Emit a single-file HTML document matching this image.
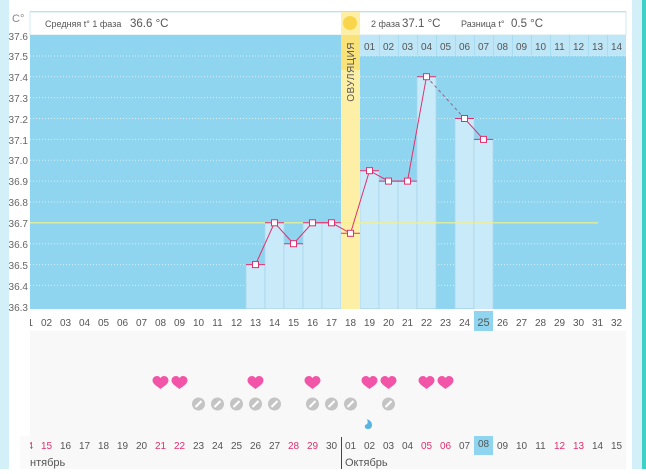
<!DOCTYPE html>
<html><head><meta charset="utf-8"><style>
body{margin:0;width:646px;height:469px;overflow:hidden;background:#fff;font-family:"Liberation Sans","DejaVu Sans",sans-serif}
svg text{font-family:"Liberation Sans","DejaVu Sans",sans-serif}
</style></head><body>
<svg width="646" height="469" viewBox="0 0 646 469" xmlns="http://www.w3.org/2000/svg">
<defs>
<path id="h" d="M0,6 C-3,3.5 -8,1 -8,-2.5 C-8,-5.5 -5.5,-7 -3.5,-7 C-2,-7 -0.7,-6 0,-5 C0.7,-6 2,-7 3.5,-7 C5.5,-7 8,-5.5 8,-2.5 C8,1 3,3.5 0,6Z" fill="#f255a8"/>
</defs>
<rect x="0" y="0" width="646" height="469" fill="#fff"/>
<rect x="0" y="0" width="9" height="469" fill="#d3eff7"/>
<rect x="632" y="0" width="10" height="469" fill="#d3eff7"/>
<rect x="642" y="0" width="4" height="469" fill="#3fd0c8"/>
<!-- header -->
<line x1="30" y1="11.5" x2="626" y2="11.5" stroke="#a8dce8"/>
<rect x="30" y="12" width="596" height="23" fill="#fff" stroke="#cfeaf2"/>
<text x="45" y="27" font-size="9" fill="#555">Средняя t° 1 фаза</text>
<text x="130" y="27" font-size="11.5" fill="#555">36.6 °C</text>
<text x="371" y="27" font-size="9" fill="#555">2 фаза</text>
<text x="402" y="27" font-size="11.5" fill="#555">37.1 °C</text>
<text x="461" y="27" font-size="9" fill="#555">Разница t°</text>
<text x="511" y="27" font-size="11.5" fill="#555">0.5 °C</text>
<text x="12" y="22" font-size="11" fill="#888">C°</text>
<!-- chart bg -->
<rect x="30" y="35" width="596" height="274" fill="#8fd5ef"/>
<rect x="360" y="35" width="266" height="21" fill="#bfe6f6"/>
<g stroke="#a8dcf0" stroke-width="1">
<line x1="379.5" y1="35" x2="379.5" y2="56"/><line x1="398.5" y1="35" x2="398.5" y2="56"/><line x1="417.5" y1="35" x2="417.5" y2="56"/><line x1="436.5" y1="35" x2="436.5" y2="56"/><line x1="455.5" y1="35" x2="455.5" y2="56"/><line x1="474.5" y1="35" x2="474.5" y2="56"/><line x1="493.5" y1="35" x2="493.5" y2="56"/><line x1="512.5" y1="35" x2="512.5" y2="56"/><line x1="531.5" y1="35" x2="531.5" y2="56"/><line x1="550.5" y1="35" x2="550.5" y2="56"/><line x1="569.5" y1="35" x2="569.5" y2="56"/><line x1="588.5" y1="35" x2="588.5" y2="56"/><line x1="607.5" y1="35" x2="607.5" y2="56"/>
</g>
<g font-size="10" fill="#555" text-anchor="middle">
<text x="369.5" y="50">01</text><text x="388.5" y="50">02</text><text x="407.5" y="50">03</text><text x="426.5" y="50">04</text><text x="445.5" y="50">05</text><text x="464.5" y="50">06</text><text x="483.5" y="50">07</text><text x="502.5" y="50">08</text><text x="521.5" y="50">09</text><text x="540.5" y="50">10</text><text x="559.5" y="50">11</text><text x="578.5" y="50">12</text><text x="597.5" y="50">13</text><text x="616.5" y="50">14</text>
</g>
<!-- grid -->
<g stroke="#d8f1fb" stroke-dasharray="1,2" stroke-width="1">
<line x1="30" y1="56" x2="626" y2="56"/><line x1="30" y1="76.7" x2="626" y2="76.7"/><line x1="30" y1="97.6" x2="626" y2="97.6"/><line x1="30" y1="118.5" x2="626" y2="118.5"/><line x1="30" y1="139.4" x2="626" y2="139.4"/><line x1="30" y1="160.2" x2="626" y2="160.2"/><line x1="30" y1="181.1" x2="626" y2="181.1"/><line x1="30" y1="202" x2="626" y2="202"/><line x1="30" y1="243.7" x2="626" y2="243.7"/><line x1="30" y1="264.6" x2="626" y2="264.6"/><line x1="30" y1="285.4" x2="626" y2="285.4"/>
</g>
<!-- bars -->
<g fill="#c9eaf9" stroke="#a9d6ea" stroke-width="0.8">
<rect x="246" y="264.6" width="19" height="44"/>
<rect x="265" y="222.8" width="19" height="86"/>
<rect x="284" y="243.7" width="19" height="65"/>
<rect x="303" y="222.8" width="19" height="86"/>
<rect x="322" y="222.8" width="19" height="86"/>
<rect x="360" y="170.7" width="19" height="138"/>
<rect x="379" y="181.1" width="19" height="128"/>
<rect x="398" y="181.1" width="19" height="128"/>
<rect x="417" y="76.7" width="19" height="232"/>
<rect x="455" y="118.5" width="19" height="190"/>
<rect x="474" y="139.4" width="19" height="170"/>
</g>
<!-- ovulation -->
<rect x="341" y="12" width="19" height="297" fill="#fdf0a6"/>
<rect x="341" y="35" width="19" height="35" fill="#f9e27a"/>
<circle cx="350" cy="23" r="7" fill="#f8d54a"/>
<text transform="translate(354,42) rotate(-90)" font-size="10" fill="#555" text-anchor="end" letter-spacing="0.5">ОВУЛЯЦИЯ</text>
<!-- avg line -->
<line x1="30" y1="222.8" x2="598" y2="222.8" stroke="#f4f08a" stroke-width="1.2"/>
<!-- data line -->
<g stroke="#e0306f" stroke-width="1" fill="none">
<polyline points="255.5,264.6 274.5,222.8 293.5,243.7 312.5,222.8 331.5,222.8 350.5,233.3 369.5,170.7 388.5,181.1 407.5,181.1 426.5,76.7"/>
<polyline points="464.5,118.5 483.5,139.4"/>
<line x1="426.5" y1="76.7" x2="464.5" y2="118.5" stroke="#a06080" stroke-dasharray="3,3"/>
<line x1="246" y1="264.6" x2="265" y2="264.6"/><line x1="265" y1="222.8" x2="284" y2="222.8"/><line x1="284" y1="243.7" x2="303" y2="243.7"/><line x1="303" y1="222.8" x2="322" y2="222.8"/><line x1="322" y1="222.8" x2="341" y2="222.8"/><line x1="341" y1="233.3" x2="360" y2="233.3"/><line x1="360" y1="170.7" x2="379" y2="170.7"/><line x1="379" y1="181.1" x2="398" y2="181.1"/><line x1="398" y1="181.1" x2="417" y2="181.1"/><line x1="417" y1="76.7" x2="436" y2="76.7"/><line x1="455" y1="118.5" x2="474" y2="118.5"/><line x1="474" y1="139.4" x2="493" y2="139.4"/>
</g>
<g fill="#fff" stroke="#e0306f" stroke-width="1">
<rect x="252.5" y="261.6" width="6" height="6"/><rect x="271.5" y="219.8" width="6" height="6"/><rect x="290.5" y="240.7" width="6" height="6"/><rect x="309.5" y="219.8" width="6" height="6"/><rect x="328.5" y="219.8" width="6" height="6"/><rect x="347.5" y="230.3" width="6" height="6"/><rect x="366.5" y="167.7" width="6" height="6"/><rect x="385.5" y="178.1" width="6" height="6"/><rect x="404.5" y="178.1" width="6" height="6"/><rect x="423.5" y="73.7" width="6" height="6"/><rect x="461.5" y="115.5" width="6" height="6"/><rect x="480.5" y="136.4" width="6" height="6"/>
</g>
<!-- y labels -->
<g font-size="10" fill="#666" text-anchor="end">
<text x="28" y="40">37.6</text><text x="28" y="60">37.5</text><text x="28" y="81">37.4</text><text x="28" y="102">37.3</text><text x="28" y="123">37.2</text><text x="28" y="144">37.1</text><text x="28" y="164">37.0</text><text x="28" y="185">36.9</text><text x="28" y="206">36.8</text><text x="28" y="227">36.7</text><text x="28" y="248">36.6</text><text x="28" y="269">36.5</text><text x="28" y="290">36.4</text><text x="28" y="311">36.3</text>
</g>
<!-- bottom area -->
<rect x="30" y="309" width="596" height="160" fill="#f8f8f8"/>
<rect x="30" y="309" width="596" height="22" fill="#fff"/>
<rect x="474" y="311" width="19" height="20" fill="#8fd5ef"/>
<rect x="474" y="436" width="19" height="19" fill="#8fd5ef"/>
<g font-size="10" fill="#555" text-anchor="middle">
<text x="27.5" y="326">01</text><text x="46.5" y="326">02</text><text x="65.5" y="326">03</text><text x="84.5" y="326">04</text><text x="103.5" y="326">05</text><text x="122.5" y="326">06</text><text x="141.5" y="326">07</text><text x="160.5" y="326">08</text><text x="179.5" y="326">09</text><text x="198.5" y="326">10</text><text x="217.5" y="326">11</text><text x="236.5" y="326">12</text><text x="255.5" y="326">13</text><text x="274.5" y="326">14</text><text x="293.5" y="326">15</text><text x="312.5" y="326">16</text><text x="331.5" y="326">17</text><text x="350.5" y="326">18</text><text x="369.5" y="326">19</text><text x="388.5" y="326">20</text><text x="407.5" y="326">21</text><text x="426.5" y="326">22</text><text x="445.5" y="326">23</text><text x="464.5" y="326">24</text><text x="483.5" y="326" font-size="11">25</text><text x="502.5" y="326">26</text><text x="521.5" y="326">27</text><text x="540.5" y="326">28</text><text x="559.5" y="326">29</text><text x="578.5" y="326">30</text><text x="597.5" y="326">31</text><text x="616.5" y="326">32</text>
</g>
<rect x="20" y="312" width="10" height="20" fill="#fff"/>
<g font-size="10" fill="#555" text-anchor="middle">
<text x="27.5" y="449" fill="#e0306f">14</text><text x="46.5" y="449" fill="#e0306f">15</text><text x="65.5" y="449">16</text><text x="84.5" y="449">17</text><text x="103.5" y="449">18</text><text x="122.5" y="449">19</text><text x="141.5" y="449">20</text><text x="160.5" y="449" fill="#e0306f">21</text><text x="179.5" y="449" fill="#e0306f">22</text><text x="198.5" y="449">23</text><text x="217.5" y="449">24</text><text x="236.5" y="449">25</text><text x="255.5" y="449">26</text><text x="274.5" y="449">27</text><text x="293.5" y="449" fill="#e0306f">28</text><text x="312.5" y="449" fill="#e0306f">29</text><text x="331.5" y="449">30</text><text x="350.5" y="449">01</text><text x="369.5" y="449">02</text><text x="388.5" y="449">03</text><text x="407.5" y="449">04</text><text x="426.5" y="449" fill="#e0306f">05</text><text x="445.5" y="449" fill="#e0306f">06</text><text x="464.5" y="449">07</text><text x="483.5" y="447">08</text><text x="502.5" y="449">09</text><text x="521.5" y="449">10</text><text x="540.5" y="449">11</text><text x="559.5" y="449" fill="#e0306f">12</text><text x="578.5" y="449" fill="#e0306f">13</text><text x="597.5" y="449">14</text><text x="616.5" y="449">15</text>
</g>
<rect x="9" y="436" width="21" height="33" fill="#fff"/>
<rect x="20" y="436" width="10" height="33" fill="#fafafa"/>
<line x1="341.5" y1="437" x2="341.5" y2="469" stroke="#444"/>
<text x="30" y="466" font-size="11" fill="#555">нтябрь</text>
<text x="345" y="466" font-size="11" fill="#555">Октябрь</text>
<!-- hearts -->
<use href="#h" x="160.5" y="383"/><use href="#h" x="179.5" y="383"/><use href="#h" x="255.5" y="383"/><use href="#h" x="312.5" y="383"/><use href="#h" x="369.5" y="383"/><use href="#h" x="388.5" y="383"/><use href="#h" x="426.5" y="383"/><use href="#h" x="445.5" y="383"/>
<!-- pills -->
<g>
<g transform="translate(198.5,404)"><circle r="6.5" fill="#c4c4c4"/><line x1="-3" y1="3" x2="3" y2="-3" stroke="#fff" stroke-width="2"/></g>
<g transform="translate(217.5,404)"><circle r="6.5" fill="#c4c4c4"/><line x1="-3" y1="3" x2="3" y2="-3" stroke="#fff" stroke-width="2"/></g>
<g transform="translate(236.5,404)"><circle r="6.5" fill="#c4c4c4"/><line x1="-3" y1="3" x2="3" y2="-3" stroke="#fff" stroke-width="2"/></g>
<g transform="translate(255.5,404)"><circle r="6.5" fill="#c4c4c4"/><line x1="-3" y1="3" x2="3" y2="-3" stroke="#fff" stroke-width="2"/></g>
<g transform="translate(274.5,404)"><circle r="6.5" fill="#c4c4c4"/><line x1="-3" y1="3" x2="3" y2="-3" stroke="#fff" stroke-width="2"/></g>
<g transform="translate(312.5,404)"><circle r="6.5" fill="#c4c4c4"/><line x1="-3" y1="3" x2="3" y2="-3" stroke="#fff" stroke-width="2"/></g>
<g transform="translate(331.5,404)"><circle r="6.5" fill="#c4c4c4"/><line x1="-3" y1="3" x2="3" y2="-3" stroke="#fff" stroke-width="2"/></g>
<g transform="translate(350.5,404)"><circle r="6.5" fill="#c4c4c4"/><line x1="-3" y1="3" x2="3" y2="-3" stroke="#fff" stroke-width="2"/></g>
<g transform="translate(388.5,404)"><circle r="6.5" fill="#c4c4c4"/><line x1="-3" y1="3" x2="3" y2="-3" stroke="#fff" stroke-width="2"/></g>
</g>
<path d="M367,419 Q372,421 372,425 Q372,429 368,429 Q364,429 365,425 Q369,424 367,419Z" fill="#5ab4e0"/>
</svg>
</body></html>
